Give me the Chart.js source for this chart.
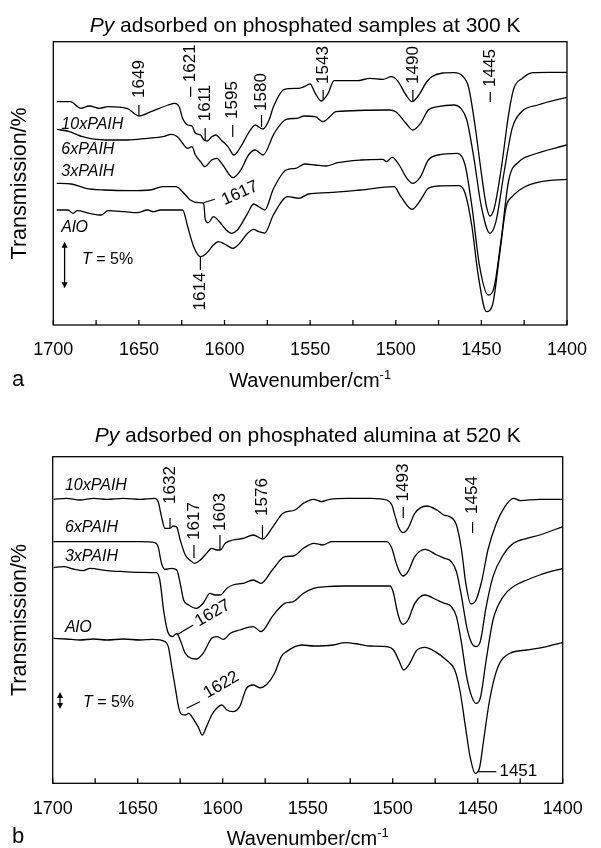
<!DOCTYPE html>
<html lang="en">
<head>
<meta charset="UTF-8">
<title>Py adsorbed on phosphated samples</title>
<script src="https://cdn.jsdelivr.net/npm/chart.js"></script>
<style>
    body {
        margin: 0;
        background: #fff;
        width: 601px;
        height: 848px;
        position: relative;
        overflow: hidden;
    }
    canvas { position: absolute; left: 0; }
    #chartA { top: 0; }
    #chartB { top: 410px; }
</style>
</head>
<body>
<canvas id="chartA" width="601" height="400"></canvas>
<canvas id="chartB" width="601" height="438"></canvas>
<script>
// transmission values are offsets in arbitrary units (spectra are stacked)
const seriesNames = ['10xPAIH', '6xPAIH', '3xPAIH', 'AlO'];

// ---------- panel a: Py adsorbed at 300 K ----------
const aWn10 = [1698, 1690, 1684, 1679, 1673, 1668, 1657, 1650, 1643, 1638, 1633, 1629, 1626.5, 1624.5, 1621.5, 1619, 1617, 1614, 1612, 1610, 1607.5, 1605, 1602, 1598, 1594.5, 1590.5, 1586, 1582, 1580, 1577.5, 1574, 1571.5, 1565, 1556.5, 1553.5, 1550, 1547, 1543.5, 1539.5, 1536, 1522.5, 1515, 1507.5, 1502.5, 1499, 1494, 1490.5, 1486.5, 1482, 1479, 1472.5, 1466, 1461, 1457.5, 1453.5, 1450, 1447, 1445, 1442.5, 1438.5, 1434, 1431, 1426, 1420, 1411, 1400];
const aT10 = [223.3, 223.3, 216.7, 219, 216.7, 218.3, 216.7, 209, 213.3, 216.7, 220, 221.7, 218.3, 206.7, 200, 199, 191.7, 190, 185, 184, 188.3, 190, 185, 178.3, 170, 178.3, 192, 200, 198, 196, 205, 218, 235.7, 236.7, 238.3, 241, 231.7, 224, 231.7, 244.3, 244.3, 246.7, 245.7, 248.3, 244.3, 230, 223.3, 230, 243, 248.3, 252, 252.3, 249, 238, 197, 151.7, 118.3, 109, 116.7, 155, 211.7, 236.7, 246.7, 252.3, 252.7, 252.7];

const aWn6 = [1698, 1690.5, 1683, 1670, 1656.5, 1645, 1636, 1631, 1627.5, 1624.5, 1621.5, 1619, 1617, 1614, 1611.5, 1607.5, 1604.5, 1601, 1595, 1590.5, 1586, 1582, 1577.5, 1571, 1564, 1557.5, 1553.5, 1547, 1542.5, 1538.5, 1535, 1503.5, 1500, 1494, 1490, 1485.5, 1481, 1475.5, 1466, 1462, 1458.5, 1454.5, 1450, 1445, 1441.5, 1436.5, 1432, 1426.5, 1417, 1400];
const aT6 = [195.7, 193.3, 188.3, 185, 185, 186.7, 188.3, 190.7, 188.3, 181.7, 176.7, 178.3, 170, 163.3, 158.3, 165, 166.7, 160, 147.3, 155, 170, 175, 170, 191.7, 205.7, 206.7, 209, 208.3, 203.3, 208.3, 213.3, 215, 213.3, 201.7, 195, 201.7, 215, 218.3, 220, 216.7, 205, 168.3, 118.3, 91.7, 103.3, 155, 196.7, 213.3, 220, 227.7];

const aWn3 = [1698, 1689.5, 1681, 1670, 1654.5, 1643.5, 1636, 1628.5, 1624.5, 1620, 1615, 1612.2, 1611.2, 1609.5, 1606.5, 1603, 1599, 1596, 1592.5, 1586.5, 1583, 1580, 1576.5, 1571.5, 1564, 1558.5, 1553, 1547, 1540.5, 1534, 1520.5, 1507.5, 1505.5, 1502, 1498, 1493.5, 1490, 1485.5, 1481, 1475.5, 1464, 1459.5, 1455.5, 1451, 1446, 1442.5, 1438.5, 1434, 1428, 1420.5, 1400];
const aT3 = [141.7, 141, 136.7, 135, 134.3, 135, 138.3, 138.3, 133.3, 125, 122.3, 121.7, 105, 102.3, 108.3, 103.3, 95, 91.7, 95, 111.7, 121, 118.3, 115, 136, 155, 156.7, 161, 160, 159, 162.3, 165, 165.7, 163.3, 167.7, 160, 146.7, 141.7, 148.3, 165, 170, 171.7, 160, 118.3, 58.3, 30, 38.3, 85, 145, 163.3, 170, 180];

const aWnAl = [1698, 1691.5, 1688.5, 1686, 1679, 1672, 1668, 1658.5, 1651, 1645, 1641.5, 1637.5, 1624.5, 1621.5, 1618, 1614, 1610.5, 1606.5, 1603.5, 1600, 1595, 1591.5, 1586.5, 1583, 1580, 1576.5, 1571.5, 1563, 1556.5, 1551, 1539.5, 1520.5, 1501, 1497, 1490.5, 1485.5, 1481, 1475.5, 1463, 1459.5, 1455.5, 1452, 1447, 1443.5, 1439.5, 1435.5, 1432, 1424.5, 1415, 1400];
const aTAl = [115, 115, 111.7, 114.3, 111.7, 110, 114.3, 113.3, 112.3, 115, 113.3, 115, 115, 98.3, 78.3, 68.3, 71.7, 80, 83.3, 81, 76.7, 81, 91.7, 95.7, 93.3, 92, 110, 128.3, 126.7, 131, 132.3, 135, 138.3, 128.3, 115.7, 125, 136.7, 139, 139.3, 131.7, 98.3, 51.7, 13.3, 20, 68.3, 118.3, 128.3, 138.3, 143.3, 145.7];

// band labels: [wavenumber, text, dash from, dash to, text centre]
const aBands = [
    [1650, '1649', 220, 209, 246],
    [1619.8, '1621', 238.3, 228.3, 261.7],
    [1611.3, '1611', 197, 185, 222],
    [1595.2, '1595', 200, 188, 225],
    [1578.4, '1580', 210, 198, 233],
    [1542.4, '1543', 235, 225, 260],
    [1490, '1490', 235, 223.3, 260],
    [1444.8, '1445', 233, 223, 257],
    [1614.1, '1614', 68.3, 55, 33.5]
];
// slanted label: [text, leader x1, y1, x2, y2, text x, text y, angle deg]
const aSlant = [['1617', 1612.3, 122.3, 1605.7, 125.7, 1591, 131.7, -24]];
const aNameY = [200, 175, 153.3, 97];

// ---------- panel b: Py adsorbed at 520 K ----------
const bWn10 = [1699.5, 1692, 1684, 1676, 1668, 1658.5, 1648.5, 1640, 1638, 1636, 1634, 1631, 1629, 1627, 1625, 1622, 1619, 1616.5, 1613.5, 1609.5, 1606.5, 1603.5, 1601.5, 1598.5, 1594, 1588, 1582, 1576.5, 1570.5, 1564.5, 1557.5, 1552.5, 1546.5, 1542, 1537, 1527, 1513, 1503.5, 1500.5, 1498.5, 1496.5, 1494, 1491, 1487, 1480, 1474, 1470, 1466.5, 1462.5, 1459.5, 1457, 1454, 1451, 1447.5, 1444, 1439, 1434, 1429, 1425, 1413.5, 1400];
const bT10 = [284, 285, 283.3, 285, 284, 285, 284, 285, 281.7, 266.7, 255, 255, 257.3, 256, 243.3, 228.3, 222.7, 220, 222.7, 230, 235, 233.3, 233.3, 240, 243.3, 245, 248.3, 244.3, 256.5, 270, 273.3, 280, 284, 281.7, 284, 285, 285, 283.3, 278.3, 266.7, 256, 250.7, 255, 270, 277.3, 273.3, 268.3, 266.7, 258.3, 233.3, 200, 179.3, 183.3, 203.3, 233.3, 260, 276.7, 285, 282.7, 284, 284];

const bWn6 = [1699.5, 1688, 1668, 1648.5, 1640, 1638, 1636, 1634, 1630, 1627, 1625, 1623, 1620, 1615.5, 1611.5, 1607.5, 1604.5, 1601.5, 1597.5, 1594, 1588, 1582, 1577.5, 1570.5, 1563.5, 1558.5, 1552.5, 1546.5, 1541, 1536, 1513.5, 1503.5, 1500.5, 1498.5, 1496.5, 1494, 1491, 1487, 1481, 1474, 1469.5, 1465.5, 1462.5, 1459.5, 1456.5, 1453.5, 1451, 1448.5, 1445, 1441, 1435, 1429, 1421, 1413.5, 1400];
const bT6 = [241.7, 241.7, 241.7, 241.7, 240.7, 236.7, 220, 214, 215, 213.3, 200, 183.3, 178.3, 175, 180, 190, 188.3, 188.3, 195, 198.3, 200, 203.3, 200, 214, 226.7, 227.3, 235, 240, 238.3, 241.7, 241.7, 241.7, 235, 223.3, 213.3, 207.3, 211.7, 226.7, 234, 228.3, 225, 221.7, 211.7, 186.7, 156.7, 140, 136.7, 141.7, 176.7, 206.7, 228.3, 240, 245, 248.3, 256.7];

const bWn3 = [1699.5, 1693.5, 1688, 1682, 1678, 1668, 1658.5, 1648.5, 1639, 1637, 1634.5, 1632, 1629.5, 1627, 1625, 1622, 1618.5, 1615.5, 1611.5, 1606.5, 1603.5, 1599.5, 1595.5, 1590, 1582, 1577.5, 1570.5, 1563.5, 1558.5, 1552.5, 1546.5, 1539, 1529, 1513.5, 1501.5, 1499.5, 1497.5, 1495.5, 1494, 1491, 1487, 1481, 1474, 1469.5, 1465.5, 1462.5, 1459.5, 1456.5, 1453.5, 1451, 1448.5, 1445, 1441, 1435, 1429, 1421, 1413.5, 1400];
const bT3 = [215.7, 216.7, 214.3, 212.7, 215, 212.7, 211.7, 211, 210.7, 203.3, 170, 150, 146.7, 150, 143.3, 130, 125, 124.3, 130, 145, 146.7, 144, 150, 153.3, 156.7, 151.7, 167.5, 180, 181.7, 190, 195, 196.7, 197.3, 197.3, 197.3, 190, 173.3, 161.7, 159, 163.3, 180, 188.3, 183.3, 180, 176.7, 166.7, 140, 106.7, 86.7, 80, 85, 123.3, 163.3, 186.7, 196.7, 203.3, 208.3, 215];

const bWnAl = [1699.5, 1692, 1684, 1676, 1668, 1658.5, 1648.5, 1641, 1634, 1632, 1630, 1628, 1626, 1624.5, 1622, 1620, 1617.5, 1614.5, 1612, 1609.5, 1606.5, 1603.5, 1600.5, 1597.5, 1594, 1590, 1586, 1582, 1578, 1574, 1569.5, 1565.5, 1562.5, 1553.5, 1546.5, 1535, 1528, 1519.5, 1513.5, 1503.5, 1499.5, 1496.5, 1493.5, 1490, 1486, 1481, 1475, 1468.5, 1463.5, 1460.5, 1457.5, 1454.5, 1451.5, 1449, 1446.5, 1443, 1438, 1431, 1421, 1409.5, 1400];
const bTAl = [145, 144.3, 143.3, 144.3, 143.3, 144.3, 143.3, 144, 141.7, 136.7, 116.7, 96.7, 76.7, 69.3, 68.3, 70, 65, 56.7, 48.3, 56.7, 68.3, 75, 78.3, 73.3, 71.7, 76.7, 95, 98.3, 95.5, 99, 110, 126.7, 131.7, 138.3, 137.3, 138.3, 140.7, 139, 137.3, 136.7, 133.3, 123.3, 113.3, 120, 132.7, 136, 131.7, 123.3, 113.3, 93.3, 60, 26.7, 10, 15, 43.3, 83.3, 116.7, 130, 133.3, 136.7, 140.7];

const bBands = [
    [1631, '1632', 265.3, 255.3, 298.3],
    [1616.9, '1617', 238.3, 225.3, 262.3],
    [1601.6, '1603', 248.3, 233.3, 271.3],
    [1576.6, '1576', 258.3, 245.3, 286.3],
    [1493.8, '1493', 276.3, 265.3, 300.8],
    [1453, '1454', 261.3, 250.3, 288.3]
];
const bSlant = [
    ['1627', 1627.1, 148.3, 1617.3, 158.3, 1605.9, 170, -30],
    ['1622', 1621.2, 75, 1613.4, 81.6, 1600.8, 98.3, -30]
];
// horizontal label: [text, line x1, line x2, y, text x]
const bFlat = [['1451', 1450.2, 1439, 11.6, 1437.2]];
const bNameY = [297.3, 255.3, 226.3, 155.3];

const FONT = '"Liberation Sans", Arial, Helvetica, sans-serif';

function toPoints(wn, t) {
    return wn.map((w, i) => ({ x: w, y: t[i] }));
}

function line(ctx, x1, y1, x2, y2) {
    ctx.beginPath();
    ctx.moveTo(x1, y1);
    ctx.lineTo(x2, y2);
    ctx.stroke();
}

// draws frame, inner ticks, titles and band annotations
function panelPlugin(p) {
    return {
        id: 'panel' + p.letter,
        afterDraw(chart) {
            const { ctx, chartArea: a, scales: { x, y } } = chart;
            const X = v => x.getPixelForValue(v);
            const Y = v => y.getPixelForValue(v);
            const cx = (a.left + a.right) / 2;
            ctx.save();
            ctx.strokeStyle = '#000';
            ctx.fillStyle = '#000';
            ctx.lineWidth = 1.3;
            ctx.strokeRect(a.left, a.top, a.right - a.left, a.bottom - a.top);
            x.ticks.forEach(t => {
                const px = X(t.value);
                line(ctx, px, a.bottom, px, a.bottom - 5);
            });

            // title: italic Py + rest
            ctx.textBaseline = 'alphabetic';
            ctx.textAlign = 'left';
            ctx.font = 'italic 21px ' + FONT;
            const w1 = ctx.measureText('Py').width;
            ctx.font = '21px ' + FONT;
            const w2 = ctx.measureText(p.title).width;
            let tx = cx + p.titleShift - (w1 + w2) / 2;
            ctx.font = 'italic 21px ' + FONT;
            ctx.fillText('Py', tx, p.titleY);
            ctx.font = '21px ' + FONT;
            ctx.fillText(p.title, tx + w1, p.titleY);

            // x axis title with superscript
            ctx.font = '20px ' + FONT;
            const wa = ctx.measureText('Wavenumber/cm').width;
            ctx.font = '13px ' + FONT;
            const wb = ctx.measureText('-1').width;
            tx = cx - (wa + wb) / 2;
            ctx.font = '20px ' + FONT;
            ctx.fillText('Wavenumber/cm', tx, p.xTitleY);
            ctx.font = '13px ' + FONT;
            ctx.fillText('-1', tx + wa, p.xTitleY - 8);
            ctx.font = '22px ' + FONT;
            ctx.fillText(p.letter, 12, p.letterY);

            // y axis title
            ctx.save();
            ctx.translate(26, (a.top + a.bottom) / 2);
            ctx.rotate(-Math.PI / 2);
            ctx.textAlign = 'center';
            ctx.textBaseline = 'alphabetic';
            ctx.font = '21.5px ' + FONT;
            ctx.fillText('Transmission/%', 0, 0);
            ctx.restore();

            // sample names
            ctx.font = 'italic 16px ' + FONT;
            ctx.textBaseline = 'middle';
            seriesNames.forEach((n, i) => ctx.fillText(n, X(p.nameX), Y(p.nameY[i])));

            // T = 5% scale bar
            const ax = X(p.bar[0]), ay1 = Y(p.bar[1]), ay2 = Y(p.bar[2]);
            line(ctx, ax, ay1 + 3, ax, ay2 - 3);
            ctx.beginPath();
            ctx.moveTo(ax, ay1); ctx.lineTo(ax - 3, ay1 + 6); ctx.lineTo(ax + 3, ay1 + 6); ctx.closePath();
            ctx.moveTo(ax, ay2); ctx.lineTo(ax - 3, ay2 - 6); ctx.lineTo(ax + 3, ay2 - 6); ctx.closePath();
            ctx.fill();
            ctx.font = 'italic 16px ' + FONT;
            const tw = ctx.measureText('T').width;
            ctx.fillText('T', X(p.bar[3]), Y(p.bar[4]));
            ctx.font = '16px ' + FONT;
            ctx.fillText(' = 5%', X(p.bar[3]) + tw, Y(p.bar[4]));

            // band labels
            ctx.font = '17px ' + FONT;
            ctx.lineWidth = 1.2;
            p.bands.forEach(([wn, txt, d1, d2, tc]) => {
                const px = X(wn);
                line(ctx, px, Y(d1), px, Y(d2));
                ctx.save();
                ctx.translate(px, Y(tc));
                ctx.rotate(-Math.PI / 2);
                ctx.textAlign = 'center';
                ctx.textBaseline = 'middle';
                ctx.fillText(txt, 0, 0);
                ctx.restore();
            });
            p.slant.forEach(([txt, x1, y1, x2, y2, txx, tyy, ang]) => {
                line(ctx, X(x1), Y(y1), X(x2), Y(y2));
                ctx.save();
                ctx.translate(X(txx), Y(tyy));
                ctx.rotate(ang * Math.PI / 180);
                ctx.textAlign = 'center';
                ctx.textBaseline = 'middle';
                ctx.fillText(txt, 0, 0);
                ctx.restore();
            });
            (p.flat || []).forEach(([txt, x1, x2, yy, txx]) => {
                line(ctx, X(x1), Y(yy), X(x2), Y(yy));
                ctx.textAlign = 'left';
                ctx.textBaseline = 'middle';
                ctx.fillText(txt, X(txx), Y(yy));
            });
            ctx.restore();
        }
    };
}

function makeChart(id, curves, p) {
    return new Chart(document.getElementById(id), {
        type: 'line',
        data: {
            datasets: curves.map((c, i) => ({
                label: seriesNames[i],
                data: toPoints(c[0], c[1]),
                borderColor: '#000',
                borderWidth: 1.3,
                pointRadius: 0,
                fill: false,
                cubicInterpolationMode: 'monotone'
            }))
        },
        options: {
            responsive: false,
            animation: false,
            devicePixelRatio: 1,
            layout: { padding: p.pad },
            plugins: { legend: { display: false }, tooltip: { enabled: false } },
            scales: {
                x: {
                    type: 'linear',
                    reverse: true,
                    min: 1400,
                    max: 1700,
                    grid: { display: false, drawTicks: false },
                    border: { display: false },
                    ticks: {
                        stepSize: 25,
                        autoSkip: false,
                        maxRotation: 0,
                        padding: p.tickPad,
                        color: '#000',
                        font: { family: FONT, size: 18 },
                        callback: v => (v % 50 === 0 ? String(v) : '')
                    },
                    afterFit: s => { s.height = p.axisH; }
                },
                y: { display: false, min: 0, max: p.yMax }
            }
        },
        plugins: [panelPlugin(p)]
    });
}

makeChart('chartA', [[aWn10, aT10], [aWn6, aT6], [aWn3, aT3], [aWnAl, aTAl]], {
    letter: 'a',
    title: ' adsorbed on phosphated samples at 300 K',
    titleY: 31.5,
    titleShift: -5,
    xTitleY: 387,
    letterY: 386,
    tickPad: 14,
    pad: { left: 53.3, right: 18, top: 41.7, bottom: 0 },
    axisH: 75,
    yMax: 283.3,
    nameX: 1695.3,
    nameY: aNameY,
    bar: [1693.4, 83.3, 36.7, 1683.2, 65],
    bands: aBands,
    slant: aSlant
});

makeChart('chartB', [[bWn10, bT10], [bWn6, bT6], [bWn3, bT3], [bWnAl, bTAl]], {
    letter: 'b',
    title: ' adsorbed on phosphated alumina at 520 K',
    titleY: 32.3,
    titleShift: 0,
    xTitleY: 435,
    letterY: 433,
    tickPad: 15,
    pad: { left: 52.7, right: 38.3, top: 46.7, bottom: 0 },
    axisH: 64.7,
    yMax: 326.6,
    nameX: 1692.8,
    nameY: bNameY,
    bar: [1695.7, 91.3, 74.3, 1682.2, 80.3],
    bands: bBands,
    slant: bSlant,
    flat: bFlat
});
</script>
</body>
</html>
